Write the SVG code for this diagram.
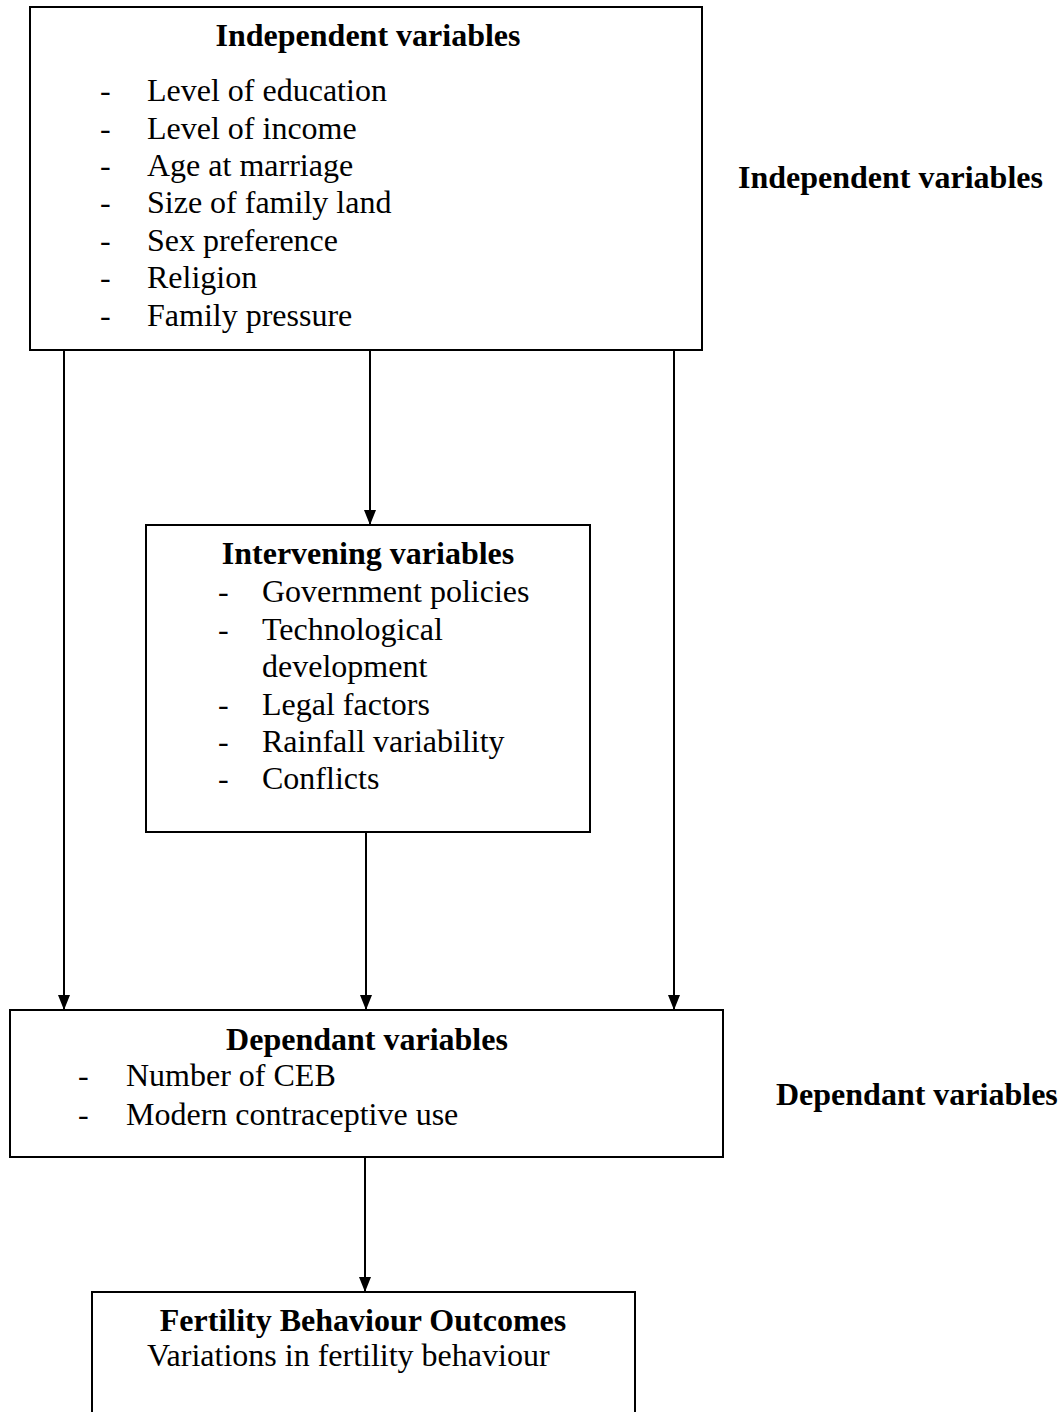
<svg xmlns="http://www.w3.org/2000/svg" width="1062" height="1412" viewBox="0 0 1062 1412">
<style>
text{font-family:"Liberation Serif","Times New Roman",serif;font-size:32px;fill:#000}
.b{font-weight:bold}
.c{text-anchor:middle}
.box{fill:#fff;stroke:#000;stroke-width:2}
.ln{stroke:#000;stroke-width:2;fill:none;marker-end:url(#ah)}
</style>
<defs>
<marker id="ah" markerUnits="userSpaceOnUse" markerWidth="15" markerHeight="12" refX="15" refY="6" orient="auto" viewBox="0 0 15 12">
<path d="M0,0 L15,6 L0,12 Z" fill="#000"/>
</marker>
</defs>
<rect width="1062" height="1412" fill="#fff"/>
<g id="connectors">
<line class="ln" x1="64" y1="350" x2="64" y2="1010"/>
<line class="ln" x1="370" y1="350" x2="370" y2="525"/>
<line class="ln" x1="674" y1="350" x2="674" y2="1010"/>
<line class="ln" x1="366" y1="832" x2="366" y2="1010"/>
<line class="ln" x1="365" y1="1157" x2="365" y2="1292"/>
</g>
<g id="independent">
<rect class="box" x="30" y="7" width="672" height="343"/>
<text class="b c" x="368" y="46">Independent variables</text>
<text x="100" y="101">-</text><text x="147" y="101">Level of education</text>
<text x="100" y="139">-</text><text x="147" y="139">Level of income</text>
<text x="100" y="176">-</text><text x="147" y="176">Age at marriage</text>
<text x="100" y="213">-</text><text x="147" y="213">Size of family land</text>
<text x="100" y="251">-</text><text x="147" y="251">Sex preference</text>
<text x="100" y="288">-</text><text x="147" y="288">Religion</text>
<text x="100" y="326">-</text><text x="147" y="326">Family pressure</text>
</g>
<g id="intervening">
<rect class="box" x="146" y="525" width="444" height="307"/>
<text class="b c" x="368" y="564">Intervening variables</text>
<text x="218" y="602">-</text><text x="262" y="602">Government policies</text>
<text x="218" y="640">-</text><text x="262" y="640">Technological</text>
<text x="262" y="677">development</text>
<text x="218" y="715">-</text><text x="262" y="715">Legal factors</text>
<text x="218" y="752">-</text><text x="262" y="752">Rainfall variability</text>
<text x="218" y="789">-</text><text x="262" y="789">Conflicts</text>
</g>
<g id="dependant">
<rect class="box" x="10" y="1010" width="713" height="147"/>
<text class="b c" x="367" y="1050">Dependant variables</text>
<text x="78" y="1086">-</text><text x="126" y="1086">Number of CEB</text>
<text x="78" y="1125">-</text><text x="126" y="1125">Modern contraceptive use</text>
</g>
<g id="outcomes">
<rect class="box" x="92" y="1292" width="543" height="140"/>
<text class="b c" x="363" y="1331">Fertility Behaviour Outcomes</text>
<text x="147" y="1366">Variations in fertility behaviour</text>
</g>
<g id="labels">
<text class="b" x="738" y="188">Independent variables</text>
<text class="b" x="776" y="1105">Dependant variables</text>
</g>
</svg>
